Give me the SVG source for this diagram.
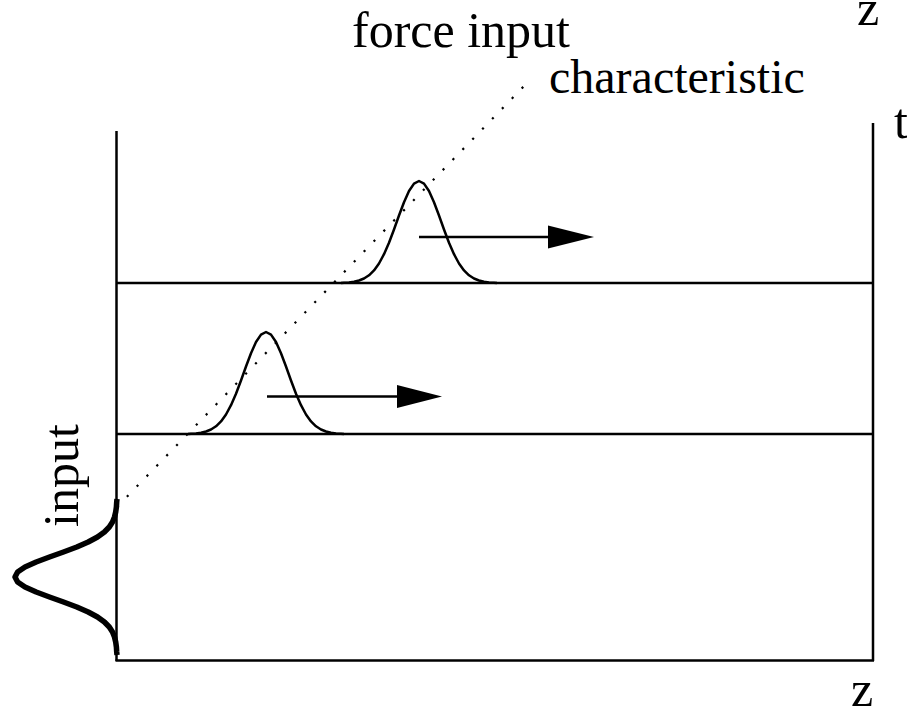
<svg xmlns="http://www.w3.org/2000/svg" xmlns:xlink="http://www.w3.org/1999/xlink" width="907" height="710" viewBox="0 0 907 710">
<style>
.ln{stroke:#000;stroke-width:2.5;fill:none}
.bump{stroke:#000;stroke-width:2.5;fill:none;stroke-linejoin:round}
.thick{stroke:#000;stroke-width:5.5;fill:none;stroke-linejoin:round;stroke-linecap:butt}
.dot{stroke:#000;stroke-width:2.2;fill:none;stroke-dasharray:2.2 12}
.txt{font-family:"Liberation Serif","Times New Roman",serif;font-size:50px;fill:#000}
</style>
<defs>
<path id="g" d="M-78,0 L-75,-0.3 L-70,-0.6 L-65,-1.3 L-60,-2.5 L-55,-4.5 L-50,-7.7 L-45,-12.6 L-40,-19.5 L-35,-28.8 L-30,-40.2 L-25,-53.5 L-20,-67.5 L-15,-80.8 L-10,-92 L-5,-99.4 L0,-102 L5,-99.4 L10,-92 L15,-80.8 L20,-67.5 L25,-53.5 L30,-40.2 L35,-28.8 L40,-19.5 L45,-12.6 L50,-7.7 L55,-4.5 L60,-2.5 L65,-1.3 L70,-0.6 L75,-0.3 L78,0"/>
</defs>
<g id="axes">
<line class="ln" x1="116.5" y1="131" x2="116.5" y2="661"/>
<line class="ln" x1="873" y1="123" x2="873" y2="661"/>
<line class="ln" x1="115.5" y1="660.5" x2="874" y2="660.5"/>
</g>
<g id="level-upper">
<line class="ln" x1="116.5" y1="283" x2="873" y2="283"/>
<use xlink:href="#g" href="#g" class="bump" transform="translate(419,283)"/>
</g>
<g id="level-lower">
<line class="ln" x1="116.5" y1="434" x2="873" y2="434"/>
<use xlink:href="#g" href="#g" class="bump" transform="translate(266,434)"/>
</g>
<g id="input-pulse">
<use xlink:href="#g" href="#g" class="thick" transform="translate(117,577) rotate(-90)"/>
</g>
<g id="connectors">
<line class="dot" x1="117" y1="507" x2="526" y2="84"/>
<line class="ln" x1="419" y1="237" x2="552" y2="237"/>
<polygon points="548,225.5 594,237 548,248.5" fill="#000"/>
<line class="ln" x1="267" y1="396.5" x2="400" y2="396.5"/>
<polygon points="397,385 442,396.5 397,408" fill="#000"/>
</g>
<g id="labels">
<text class="txt" x="352" y="47">force input</text>
<text class="txt" x="549" y="93" style="font-size:48px">characteristic</text>
<text class="txt" x="857" y="25">z</text>
<text class="txt" x="894" y="138">t</text>
<text class="txt" x="851" y="706">z</text>
<text class="txt" transform="translate(78,527) rotate(-90)">input</text>
</g>
</svg>
